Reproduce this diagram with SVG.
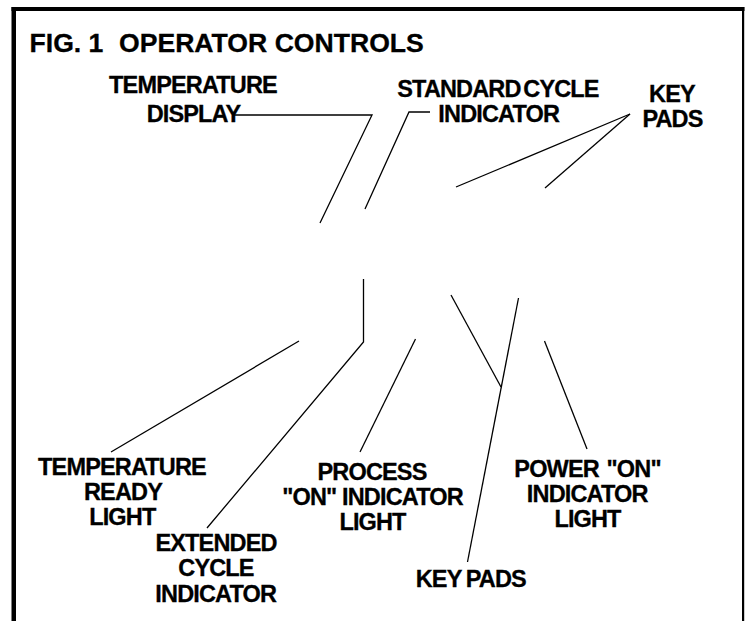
<svg xmlns="http://www.w3.org/2000/svg" width="748" height="621" viewBox="0 0 748 621">
<style>
  .lbl { font-family: "Liberation Sans", Arial, sans-serif; font-weight: bold; font-size: 23.5px; letter-spacing: -0.85px; text-anchor: middle; fill: #000; stroke: #000; stroke-width: 0.3; }
  .title { font-family: "Liberation Sans", Arial, sans-serif; font-weight: bold; font-size: 26.6px; fill: #000; stroke: #000; stroke-width: 0.3; }
  .ln { fill: none; stroke: #000; stroke-width: 1.3; stroke-linejoin: miter; }
</style>
<rect x="0" y="0" width="748" height="621" fill="#fff"/>
<g id="frame" fill="#000">
  <rect x="11.5" y="7" width="4.5" height="614"/>
  <rect x="11.5" y="7" width="733" height="4"/>
  <rect x="742" y="7" width="2.2" height="614"/>
</g>
<g id="title">
  <text class="title" y="52"><tspan x="29.5">FIG. 1</tspan><tspan x="119">OPERATOR CONTROLS</tspan></text>
</g>
<g id="connectors">
  <polyline class="ln" points="233,115 372,115 320,223"/>
  <polyline class="ln" points="430,112 409,112 365,209"/>
  <line class="ln" x1="630" y1="114" x2="456" y2="187"/>
  <line class="ln" x1="630" y1="114" x2="545" y2="188"/>
  <polyline class="ln" points="363.5,279 363.5,342 207,528"/>
  <line class="ln" x1="299" y1="341" x2="111" y2="452"/>
  <line class="ln" x1="415.5" y1="339" x2="360" y2="452"/>
  <line class="ln" x1="451" y1="295" x2="501" y2="387"/>
  <line class="ln" x1="518.5" y1="298" x2="467.5" y2="562"/>
  <line class="ln" x1="544.5" y1="341" x2="587" y2="449"/>
</g>
<g id="temperature-display">
  <text class="lbl" x="193" y="93">TEMPERATURE</text>
  <text class="lbl" x="193.5" y="122">DISPLAY</text>
</g>
<g id="standard-cycle-indicator">
  <text class="lbl" x="498" y="97" style="word-spacing:-3px">STANDARD CYCLE</text>
  <text class="lbl" x="498.7" y="122.3">INDICATOR</text>
</g>
<g id="key-pads-top">
  <text class="lbl" x="672" y="101.7">KEY</text>
  <text class="lbl" x="672.5" y="127.3">PADS</text>
</g>
<g id="temperature-ready-light">
  <text class="lbl" x="122" y="475">TEMPERATURE</text>
  <text class="lbl" x="123" y="500">READY</text>
  <text class="lbl" x="122.3" y="525">LIGHT</text>
</g>
<g id="extended-cycle-indicator">
  <text class="lbl" x="216" y="550.7">EXTENDED</text>
  <text class="lbl" x="216" y="576">CYCLE</text>
  <text class="lbl" x="215.7" y="601.7">INDICATOR</text>
</g>
<g id="process-on-indicator-light">
  <text class="lbl" x="372" y="479.5">PROCESS</text>
  <text class="lbl" x="372.5" y="504.7">"ON" INDICATOR</text>
  <text class="lbl" x="372.5" y="529.5">LIGHT</text>
</g>
<g id="key-pads-bottom">
  <text class="lbl" x="470.8" y="587.3" style="word-spacing:-1px">KEY PADS</text>
</g>
<g id="power-on-indicator-light">
  <text class="lbl" x="587.5" y="476.7" style="word-spacing:2px">POWER "ON"</text>
  <text class="lbl" x="587.2" y="502.3">INDICATOR</text>
  <text class="lbl" x="587.5" y="527.3">LIGHT</text>
</g>
</svg>
